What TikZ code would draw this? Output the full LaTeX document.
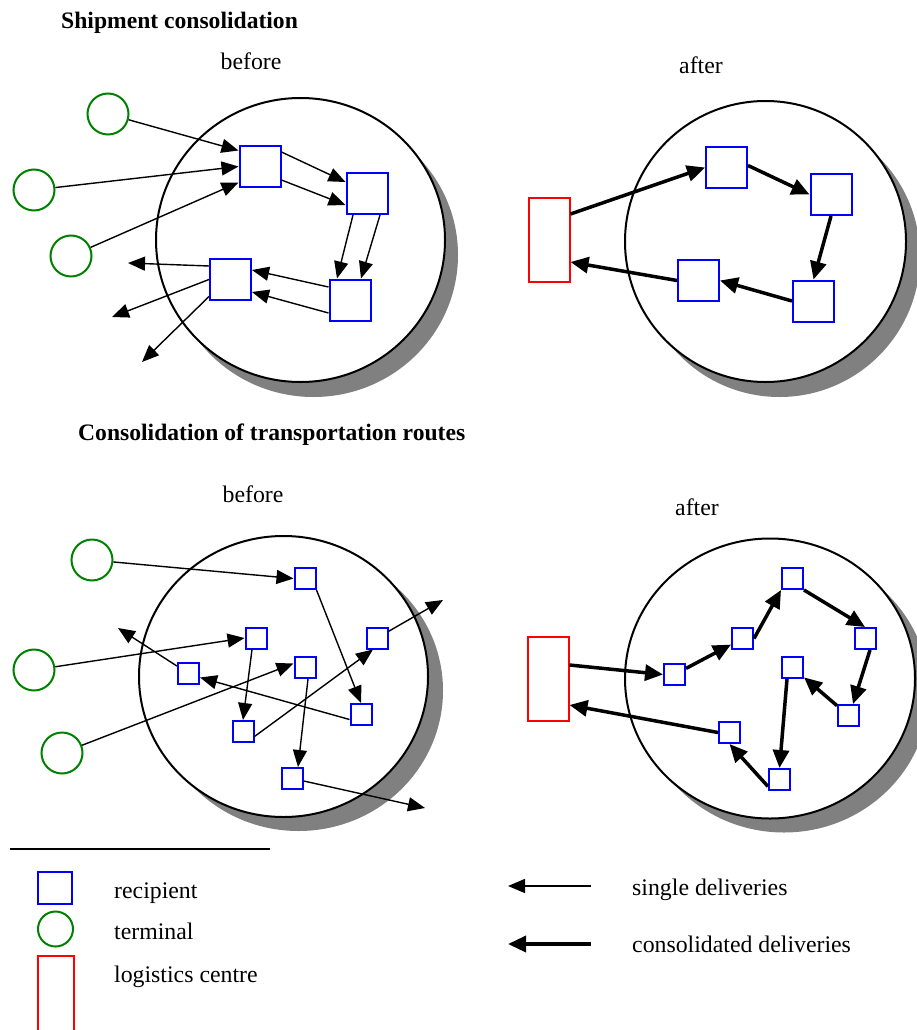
\documentclass[tikz,border=0pt]{standalone}
\usepackage{fontspec}
\setmainfont{Liberation Serif}
\usetikzlibrary{arrows.meta}
\definecolor{recblue}{RGB}{0,0,255}
\definecolor{termgreen}{RGB}{0,128,0}
\definecolor{lcred}{RGB}{255,0,0}
\definecolor{shadowgray}{RGB}{128,128,128}
\begin{document}
\begin{tikzpicture}[x=1pt,y=-1pt,
  every node/.style={font=\fontsize{23.8}{28}\selectfont},
  rec/.style={draw=recblue,line width=2pt,minimum width=41pt,minimum height=41pt,inner sep=0pt},
  recs/.style={draw=recblue,line width=2pt,minimum width=21pt,minimum height=21pt,inner sep=0pt},
  term/.style={draw=termgreen,line width=2pt,circle,minimum size=41pt,inner sep=0pt},
  lc/.style={draw=lcred,line width=2pt,minimum width=41pt,minimum height=84pt,inner sep=0pt},
  thinarr/.style={line width=1.4pt,-{Triangle[length=17pt,width=14pt]}},
  thickarr/.style={line width=3.5pt,-{Triangle[length=18pt,width=16pt]}},
  area/.style={draw=black,line width=2pt,fill=white},
  shade/.style={fill=shadowgray},
  lbl/.style={anchor=base,inner sep=0pt},
  lbll/.style={anchor=base west,inner sep=0pt},
  title/.style={anchor=base west,inner sep=0pt,font=\fontsize{23.6}{28}\selectfont\bfseries}]
\useasboundingbox (0,0) rectangle (917,1030);

% titles
\node[title] (t1) at (61,29) {Shipment consolidation};
\node[lbl] (b1) at (251,70) {before};
\node[lbl] (a1) at (701,74) {after};
\node[title] (t2) at (78,440) {Consolidation of transportation routes};
\node[lbl] (b2) at (253,502) {before};
\node[lbl] (a2) at (697,515) {after};

% ---------- top left ----------
\fill[shade] (313.5,255) ellipse [x radius=144.5pt, y radius=142pt];
\draw[area] (300.5,240) ellipse [x radius=144.5pt, y radius=142pt];
\node[term] (T1) at (108,114) {};
\node[term] (T2) at (34,190) {};
\node[term] (T3) at (71,256) {};
\node[rec] (R1) at (260,166.5) {};
\node[rec] (R2) at (367,193.5) {};
\node[rec] (R3) at (350,300) {};
\node[rec] (R4) at (230.5,279.5) {};
\coordinate (o1) at (128,263);
\coordinate (o2) at (112,317);
\coordinate (o3) at (142,362);
\draw[thinarr] (T1) -- ([yshift=16pt]R1.west);
\draw[thinarr] (T2) -- (R1.west);
\draw[thinarr] (T3) -- ([yshift=-16pt]R1.west);
\draw[thinarr] ([yshift=14.5pt]R1.east) -- ([yshift=11.5pt]R2.west);
\draw[thinarr] ([yshift=-13.5pt]R1.east) -- ([yshift=-11.5pt]R2.west);
\draw[thinarr] ([xshift=-14pt]R2.south) -- ([xshift=-13pt]R3.north);
\draw[thinarr] ([xshift=13pt]R2.south) -- ([xshift=11pt]R3.north);
\draw[thinarr] ([yshift=13pt]R3.west) -- ([yshift=9.5pt]R4.east);
\draw[thinarr] ([yshift=-13pt]R3.west) -- ([yshift=-12.5pt]R4.east);
\draw[thinarr] ([yshift=13.5pt]R4.west) -- (o1);
\draw[thinarr] (R4.west) -- (o2);
\draw[thinarr] ([yshift=-17pt]R4.west) -- (o3);

% ---------- top right ----------
\fill[shade] (779.5,256.5) ellipse [x radius=140.5pt, y radius=140.5pt];
\draw[area] (765.5,241.5) ellipse [x radius=140.5pt, y radius=140.5pt];
\node[lc] (L1) at (549,239.5) {};
\node[rec] (A) at (726.5,167.5) {};
\node[rec] (B) at (831,194.5) {};
\node[rec] (C) at (813.5,301) {};
\node[rec] (D) at (698.5,280.5) {};
\draw[thickarr] ([yshift=25.5pt]L1.east) -- (A.west);
\draw[thickarr] ([yshift=2pt]A.east) -- (B.west);
\draw[thickarr] (B.south) -- (C.north);
\draw[thickarr] (C.west) -- (D.east);
\draw[thickarr] (D.west) -- ([yshift=-22.5pt]L1.east);

% ---------- bottom left ----------
\fill[shade] (298.5,690.5) ellipse [x radius=144.5pt, y radius=140.5pt];
\draw[area] (283.5,676.5) ellipse [x radius=144.5pt, y radius=140.5pt];
\node[term] (T4) at (92,560) {};
\node[term] (T5) at (34,670) {};
\node[term] (T6) at (62,753) {};
\node[recs] (S1) at (305,578.5) {};
\node[recs] (S2) at (256,638) {};
\node[recs] (S3) at (377,638) {};
\node[recs] (S4) at (188.5,673.5) {};
\node[recs] (S5) at (305,667.5) {};
\node[recs] (S6) at (361,714.5) {};
\node[recs] (S7) at (243,731.5) {};
\node[recs] (S8) at (292.5,778.5) {};
\coordinate (o4) at (118,628);
\coordinate (o5) at (443,600);
\coordinate (o6) at (425,808);
\draw[thinarr] (T4) -- (S1.west);
\draw[thinarr] (S1.south east) -- (S6.north);
\draw[thinarr] (T5) -- (S2.west);
\draw[thinarr] ([xshift=-4pt]S2.south) -- (S7.north);
\draw[thinarr] (S4) -- (o4);
\draw[thinarr] ([yshift=-5pt]S6.west) -- ([yshift=-4pt]S4.east);
\draw[thinarr] (T6) -- ([yshift=4pt]S5.west);
\draw[thinarr] ([yshift=-5pt]S7.east) -- ([xshift=-4pt]S3.south);
\draw[thinarr] (S3) -- (o5);
\draw[thinarr] ([xshift=3pt]S5.south) -- ([xshift=5.5pt]S8.north);
\draw[thinarr] (S8) -- (o6);

% ---------- bottom right ----------
\fill[shade] (784,692.5) ellipse [x radius=145pt, y radius=140pt];
\draw[area] (770,678.5) ellipse [x radius=145pt, y radius=140pt];
\node[lc] (L2) at (548,678.5) {};
\node[recs] (Q1) at (674.5,674.5) {};
\node[recs] (Q2) at (742.5,638.5) {};
\node[recs] (Q3) at (792.5,578.5) {};
\node[recs] (Q4) at (865,638.5) {};
\node[recs] (Q5) at (848.5,715.5) {};
\node[recs] (Q6) at (792.5,667.5) {};
\node[recs] (Q7) at (779.5,779.5) {};
\node[recs] (Q8) at (729.5,732.5) {};
\draw[thickarr] ([yshift=13.5pt]L2.east) -- (Q1.west);
\draw[thickarr] (Q1) -- (Q2);
\draw[thickarr] (Q2.east) -- (Q3.south west);
\draw[thickarr] (Q3.south east) -- (Q4.north);
\draw[thickarr] ([xshift=5pt]Q4.south) -- ([xshift=4.5pt]Q5.north);
\draw[thickarr] (Q5) -- (Q6);
\draw[thickarr] ([xshift=-5.5pt]Q6.south) -- (Q7.north);
\draw[thickarr] ([yshift=-7pt]Q7.west) -- (Q8.south);
\draw[thickarr] (Q8.west) -- ([yshift=-26.5pt]L2.east);

% ---------- legend ----------
\draw[line width=1.5pt] (10,849) -- (270,849);
\node[draw=recblue,line width=2pt,minimum width=34pt,minimum height=32pt,inner sep=0pt] (lrec) at (55,888) {};
\node[draw=termgreen,line width=2pt,circle,minimum size=35pt,inner sep=0pt] (lterm) at (55.5,929) {};
\node[draw=lcred,line width=2pt,minimum width=36pt,minimum height=83pt,inner sep=0pt] (llc) at (56,997.5) {};
\node[lbll] (trec) at (114,898) {recipient};
\node[lbll] (tterm) at (114,939) {terminal};
\node[lbll] (tlc) at (114,982) {logistics centre};
\coordinate (ls1) at (591,886);
\coordinate (ls2) at (508,886);
\coordinate (lk1) at (591,944);
\coordinate (lk2) at (508,944);
\draw[thinarr] (ls1) -- (ls2);
\draw[thickarr] (lk1) -- (lk2);
\node[lbll] (tsingle) at (632,895) {single deliveries};
\node[lbll] (tcons) at (632,952) {consolidated deliveries};
\end{tikzpicture}
\end{document}
